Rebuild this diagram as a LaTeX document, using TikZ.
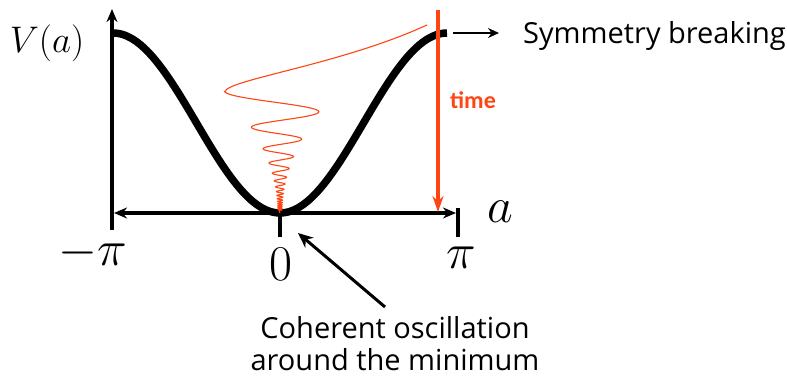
\documentclass[tikz,border=0pt]{standalone}
\usepackage{fix-cm}
\usepackage{fontspec}
\setsansfont{Open Sans}
\newfontfamily\timefont{Carlito}
\usetikzlibrary{arrows.meta, positioning}
\definecolor{tred}{HTML}{FF4513}
\tikzset{
  axis/.style={line width=3.4pt, black},
  axarr/.style={axis, -{Stealth[length=13pt,width=11pt]}},
  potential/.style={line width=7.5pt, black},
  osc/.style={line width=1.1pt, tred},
  timearr/.style={-{Stealth[length=16pt,width=11pt]}, line width=4pt, tred},
  pointer/.style={-{Stealth[length=15pt,width=13pt]}, line width=3pt},
  mlabel/.style={font=\fontsize{50}{55}\selectfont, inner sep=0pt, anchor=base},
  txt/.style={font=\sffamily\fontsize{29}{32}\selectfont, inner sep=0pt},
}

\begin{document}
\begin{tikzpicture}[x=1pt, y=-1pt]
  \useasboundingbox (0,0) rectangle (787,380);

  % axes
  \coordinate (O) at (280,213);
  \coordinate (ybot) at (112,230);
  \coordinate (ytop) at (112,9);
  \coordinate (xl) at (114,213);
  \coordinate (xr) at (456,213);
  \draw[axarr] (ybot) -- (ytop);
  \draw[axis, {Stealth[length=13pt,width=11pt]}-{Stealth[length=13pt,width=11pt]}] (xl) -- (xr);
  \draw[axis] (458,208) -- (458,237);
  \draw[axis] (O) -- (280,237);

  % potential
  \draw[potential] plot[domain=113:447, samples=120]
    (\x, {33 + 90*(1 + cos((\x-280)/167*180))});

  % oscillation
  \draw[osc] (427,25) .. controls (340,65) and (225,80) .. (225,92)
    -- plot[domain=18.84:112, samples=700]
    ({280 - (2 + 53*((2681/\x - 21.3)/121)^2)*cos(deg(\x-18.84))}, {213 - (2681/\x - 21.3)})
    -- (O);

  % time arrow
  \coordinate (ttop) at (438,10);
  \coordinate (tbot) at (438,212);
  \draw[timearr] (ttop) -- (tbot);
  \node[anchor=base west, inner sep=0pt, tred,
        font=\timefont\bfseries\fontsize{24}{28}\selectfont] (timelabel) at (450,108) {time};

  % labels
  \node[mlabel, font=\fontsize{37}{40}\selectfont] (Vlabel) at (47,52) {$V(a)$};
  \node[mlabel] (alabel) at (500,222) {$a$};
  \node[mlabel] (mpi) at (93,265) {$-\pi$};
  \node[mlabel] (zero) at (281,280) {$0$};
  \node[mlabel] (ppi) at (461,268) {$\pi$};

  % symmetry breaking
  \coordinate (sbstart) at (453,33);
  \node[txt, anchor=base west] (symtext) at (523,43) {Symmetry breaking};
  \draw[-{Stealth[length=11pt,width=10pt]}, line width=2.4pt] (sbstart) -- (499,33);

  % coherent oscillation
  \node[txt, align=center, anchor=north] (cohtext) at (395,316)
    {Coherent oscillation\\around the minimum};
  \coordinate (ptail) at (385,307);
  \coordinate (phead) at (298,233);
  \draw[pointer] (ptail) -- (phead);
\end{tikzpicture}
\end{document}
